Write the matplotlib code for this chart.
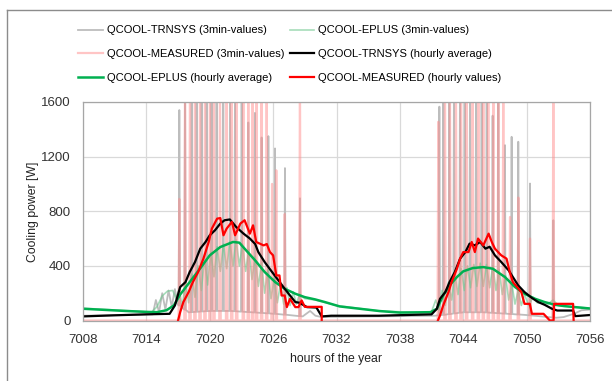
import matplotlib
matplotlib.use("Agg")
import matplotlib.pyplot as plt
import numpy as np
from matplotlib.lines import Line2D

plt.rcParams['font.family'] = ['Liberation Sans', 'DejaVu Sans']
plt.rcParams['font.size'] = 9

# ---- hourly series ----
eplus_h_hours = [7008, 7010, 7012, 7014, 7015, 7015.9, 7016.6, 7017.2, 7018.1, 7019.1,
                 7020.0, 7021.0, 7022.2, 7022.8, 7023.3, 7024.3, 7025.2, 7026.2, 7027.1, 7028.1,
                 7029.0, 7030.0, 7030.9, 7032.3, 7034.2, 7036.1, 7038.0, 7040.0, 7040.9, 7041.5,
                 7042.1, 7042.7, 7043.4, 7044.0, 7044.9, 7045.9, 7046.8, 7047.95, 7048.9, 7049.8,
                 7050.8, 7051.7, 7052.7, 7053.6, 7055, 7056]
eplus_h_values = [86, 78, 70, 63, 61, 75, 110, 190, 281, 382,
                  477, 538, 575, 570, 526, 440, 355, 281, 232, 196,
                  171, 154, 135, 103, 86, 69, 58, 60, 61, 86,
                  183, 257, 318, 360, 384, 391, 379, 318, 245, 196,
                  159, 135, 115, 105, 95, 88]

trn_h_hours = [7008, 7011, 7014, 7016.2, 7016.7, 7017.2, 7017.7, 7018.1, 7018.6, 7019.1,
               7019.6, 7020.0, 7020.5, 7021.0, 7021.4, 7021.9, 7022.5, 7023.2, 7023.8, 7024.3,
               7024.6, 7025.2, 7025.9, 7026.5, 7027.1, 7027.6, 7028.1, 7028.5, 7029.2, 7030.1,
               7030.6, 7031.5, 7036, 7041, 7041.5, 7041.8, 7042.3, 7042.7, 7043.2, 7043.7,
               7044.2, 7044.6, 7045.1, 7045.6, 7046.1, 7046.5, 7047.0, 7047.6, 7048.3, 7048.7,
               7049.2, 7049.8, 7050.5, 7051.1, 7051.7, 7052.4, 7052.9, 7054.4, 7054.6, 7056]
trn_h_values = [30, 38, 45, 49, 110, 245, 281, 355, 428, 526,
                575, 624, 661, 710, 734, 740, 685, 636, 600, 560,
                501, 428, 355, 294, 232, 183, 135, 130, 98, 95,
                30, 35, 35, 45, 86, 159, 208, 281, 355, 453,
                501, 563, 550, 575, 526, 540, 477, 428, 367, 318,
                257, 208, 165, 135, 115, 86, 73, 73, 32, 40]

meas_h_day1_hours = [7017.0, 7017.2, 7017.5, 7018.0, 7018.4, 7018.9, 7019.4, 7019.9, 7020.2, 7020.7,
                     7021.0, 7021.3, 7021.6, 7022.1, 7022.4, 7022.9, 7023.3, 7023.8, 7024.1, 7024.4,
                     7025.1, 7025.4, 7025.7, 7026.0, 7026.3, 7026.6, 7026.8, 7027.1, 7027.3, 7027.6,
                     7028.1, 7028.4, 7028.7, 7029.0, 7030.6, 7030.6]
meas_h_day1_values = [0, 61, 135, 208, 281, 355, 453, 575, 673, 746,
                      750, 624, 673, 722, 624, 710, 734, 636, 697, 575,
                      550, 560, 501, 477, 330, 330, 183, 183, 98, 159,
                      98, 98, 147, 100, 100, 0]
meas_h_day2_hours = [7041.6, 7041.8, 7042.1, 7042.6, 7042.9, 7043.4, 7043.7, 7044.0, 7044.5, 7044.8,
                     7045.1, 7045.4, 7045.9, 7046.4, 7046.7, 7047.0, 7047.3, 7047.6, 7048.1, 7048.4,
                     7048.7, 7049.1, 7049.5, 7049.8, 7050.3, 7050.5, 7051.6, 7052.2, 7052.55, 7052.6,
                     7054.4, 7054.45]
meas_h_day2_values = [0, 37, 110, 208, 281, 379, 453, 501, 501, 575,
                      501, 600, 550, 636, 575, 526, 501, 477, 453, 355,
                      281, 245, 208, 122, 122, 49, 49, 0, 0, 122,
                      122, 0]

# ---- 3-min series (levels, peaks and troughs) ----
trn3_base_hours = [7008, 7014.6, 7014.9, 7015.2, 7015.5, 7015.8, 7016.1, 7016.4, 7016.7, 7016.95,
                   7018.0, 7020.0, 7022.0, 7024.0, 7026.0, 7027.5, 7028.8, 7029.5, 7030.0, 7030.6,
                   7041.3, 7042.0, 7044.0, 7046.0, 7048.0, 7050.0, 7052.8, 7053.5, 7054.5, 7055.2,
                   7056]
trn3_base_values = [35, 45, 150, 60, 200, 80, 220, 100, 230, 120,
                    60, 70, 70, 60, 50, 40, 30, 70, 35, 25,
                    35, 40, 60, 60, 50, 40, 20, 25, 50, 75,
                    80]
trn3_spike_hours = [7017.12, 7017.66, 7018.29, 7018.76, 7019.23, 7019.71, 7020.18, 7020.65, 7021.28, 7021.92,
                    7022.39, 7023.02, 7023.65, 7024.28, 7024.91, 7025.55, 7026.18, 7027.12, 7028.54,
                    7041.74, 7042.11, 7042.68, 7043.12, 7043.69, 7044.16, 7044.64, 7045.21, 7045.74, 7046.22,
                    7046.78, 7047.32, 7047.95, 7048.58, 7049.21, 7050.32, 7052.53]
trn3_spike_peaks = [1541, 1800, 1800, 1800, 1800, 1800, 1800, 1800, 1800, 1800,
                    1800, 1800, 1450, 1520, 1340, 1350, 1260, 1116, 895,
                    1566, 1800, 1700, 1800, 1800, 1800, 1800, 1800, 1800, 1800,
                    1500, 1800, 1284, 1345, 1309, 1003, 734]

eplus3_hours = [7008, 7014.5, 7015.0, 7015.5, 7016.0, 7016.5, 7016.8, 7017.1, 7017.4, 7017.7,
                7018.0, 7018.3, 7018.6, 7018.9, 7019.2, 7019.5, 7019.8, 7020.1, 7020.4, 7020.7,
                7021.0, 7021.3, 7021.6, 7021.9, 7022.2, 7022.5, 7022.8, 7023.1, 7023.4, 7023.7,
                7024.0, 7024.3, 7024.6, 7024.9, 7025.2, 7025.5, 7025.8, 7026.1, 7026.4, 7026.7,
                7027.0, 7027.3, 7027.6, 7027.9, 7028.2, 7028.5, 7029.0, 7030.0, 7032.0, 7036.0,
                7040.0, 7041.0, 7041.4, 7041.7, 7042.0, 7042.3, 7042.6, 7042.9, 7043.2, 7043.5,
                7043.8, 7044.1, 7044.4, 7044.7, 7045.0, 7045.3, 7045.6, 7045.9, 7046.2, 7046.5,
                7046.8, 7047.1, 7047.4, 7047.7, 7048.0, 7048.3, 7048.6, 7048.9, 7049.2, 7049.5,
                7049.8, 7050.2, 7050.6, 7051.0, 7052.0, 7052.5, 7053.0, 7056.0]
eplus3_values = [90, 62, 100, 180, 215, 220, 160, 230, 100, 290,
                 130, 340, 170, 400, 220, 450, 260, 500, 320, 540,
                 360, 560, 380, 580, 400, 590, 400, 560, 360, 520,
                 300, 470, 250, 420, 200, 370, 160, 310, 130, 270,
                 120, 240, 110, 210, 120, 190, 160, 150, 110, 70,
                 58, 65, 150, 80, 220, 110, 280, 150, 340, 190,
                 380, 220, 400, 240, 410, 250, 420, 250, 410, 240,
                 400, 220, 370, 190, 330, 150, 270, 120, 220, 110,
                 190, 110, 170, 130, 120, 150, 110, 90]

meas3_spike_hours = [7017.12, 7017.66, 7018.13, 7018.60, 7019.08, 7019.55, 7020.02, 7020.40, 7020.97, 7021.60,
                     7022.08, 7022.55, 7023.18, 7023.65, 7024.06, 7024.44, 7024.91, 7025.39, 7025.9, 7026.3,
                     7027.1, 7028.54,
                     7041.64, 7042.27, 7042.74, 7043.31, 7043.79, 7044.32, 7044.89, 7045.43, 7045.90, 7046.37,
                     7046.85, 7047.32, 7047.79, 7048.43, 7049.22, 7050.32, 7052.53]
meas3_spike_peaks = [890, 1800, 1800, 1800, 1800, 1800, 1800, 1800, 1800, 1800,
                     1800, 1800, 1800, 1800, 1800, 1800, 1800, 1800, 1000, 1100,
                     780, 1800,
                     1455, 1800, 1800, 1800, 1800, 1800, 1800, 1800, 1800, 1800,
                     1800, 1800, 1800, 758, 900, 600, 1800]

x_ticks = [7008, 7014, 7020, 7026, 7032, 7038, 7044, 7050, 7056]
y_ticks = [0, 400, 800, 1200, 1600]


def spiky(base_h, base_v, spike_h, spike_p, half=0.06):
    # insert narrow spikes into a background level line
    pts = list(zip(base_h, base_v))
    for h, p in zip(spike_h, spike_p):
        b = float(np.interp(h, base_h, base_v))
        pts += [(h - half, b), (h, p), (h + half, b)]
    pts.sort(key=lambda t: t[0])
    return [t[0] for t in pts], [t[1] for t in pts]


t3_h, t3_v = spiky(trn3_base_hours, trn3_base_values, trn3_spike_hours, trn3_spike_peaks, 0.06)
m3_h, m3_v = spiky([7008, 7056], [0, 0], meas3_spike_hours, meas3_spike_peaks, 0.07)

fig = plt.figure(figsize=(6.12, 3.81), dpi=100)
ax = fig.add_axes([83 / 612, 1 - 320.5 / 381, 507 / 612, 218.5 / 381])

l_trn3, = ax.plot(t3_h, t3_v, color='#bdbdbd', lw=1.3, label='QCOOL-TRNSYS (3min-values)')
l_ep3, = ax.plot(eplus3_hours, eplus3_values, color='#6cc68c', lw=1.2, alpha=0.6, label='QCOOL-EPLUS (3min-values)')
l_m3, = ax.plot(m3_h, m3_v, color='#ff8c8c', lw=1.6, alpha=0.5, label='QCOOL-MEASURED (3min-values)')
l_ep, = ax.plot(eplus_h_hours, eplus_h_values, color='#00b050', lw=1.8, label='QCOOL-EPLUS (hourly average)')
l_trn, = ax.plot(trn_h_hours, trn_h_values, color='black', lw=1.6, label='QCOOL-TRNSYS (hourly average)')
l_m, = ax.plot(meas_h_day1_hours, meas_h_day1_values, color='#ff0000', lw=1.6, label='QCOOL-MEASURED (hourly values)')
ax.plot(meas_h_day2_hours, meas_h_day2_values, color='#ff0000', lw=1.6)

ax.set_xlim(7008, 7056)
ax.set_ylim(0, 1600)
ax.set_xticks(x_ticks)
ax.set_yticks(y_ticks)
ax.grid(True, color='#d9d9d9', lw=0.9)
ax.set_axisbelow(True)
ax.tick_params(length=0, labelsize=9.5, colors='#333333')
ax.tick_params(axis='x', pad=10)
ax.tick_params(axis='y', pad=9)
for s in ax.spines.values():
    s.set_color('#a6a6a6')
    s.set_linewidth(0.9)

fig.text(33 / 612, 1 - 212 / 381, 'Cooling power [W]', rotation=90, ha='center', va='center',
         fontsize=8.8, color='#222222')
fig.text(336 / 612, 1 - 359 / 381, 'hours of the year', ha='center', va='center',
         fontsize=8.8, color='#222222')

handles = [l_trn3, l_m3, l_ep, l_ep3, l_trn, l_m]
fig.legend(handles=handles, labels=[h.get_label() for h in handles], ncol=2,
           loc='upper left', bbox_to_anchor=(74 / 612, 1 - 21 / 381), frameon=False,
           fontsize=8.0, handlelength=2.2, handletextpad=0.35, columnspacing=0.5,
           labelspacing=1.25, borderaxespad=0)

# outer chart border (left and top visible)
fig.add_artist(Line2D([7 / 612, 7 / 612], [0, 1 - 10 / 381], transform=fig.transFigure, color='#8c8c8c', lw=1))
fig.add_artist(Line2D([7 / 612, 1], [1 - 10 / 381, 1 - 10 / 381], transform=fig.transFigure, color='#8c8c8c', lw=1))

fig.savefig('out.png', dpi=100)
